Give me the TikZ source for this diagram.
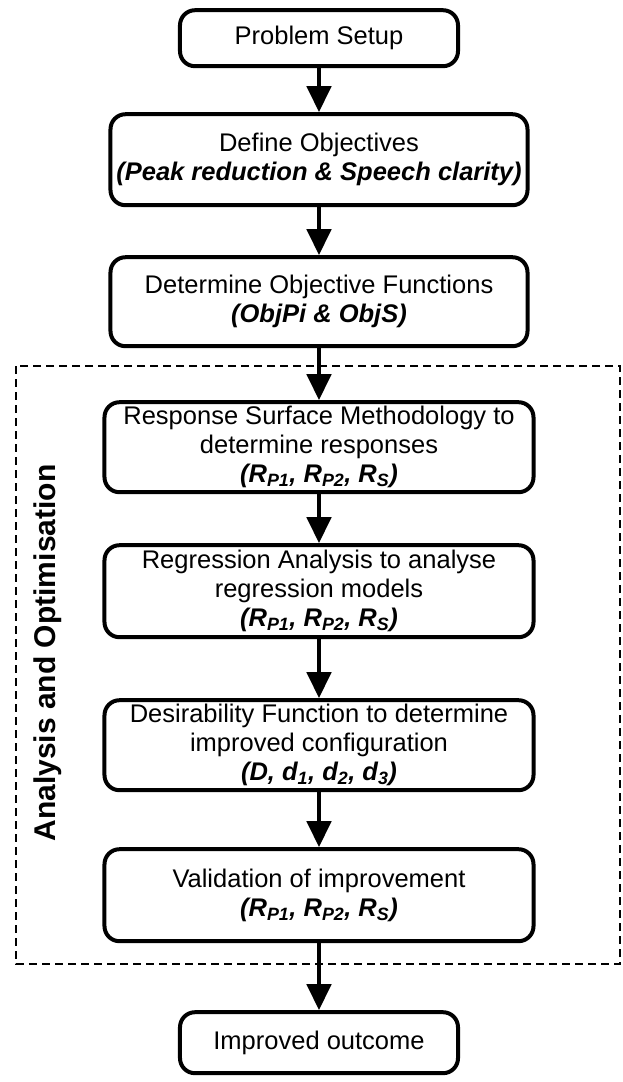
\documentclass[tikz,border=0pt]{standalone}
\usepackage{fontspec}
\setmainfont{Liberation Sans}
\usepackage{tikz}
\usetikzlibrary{arrows.meta}

\newcommand{\respset}{\textbf{\textit{(R\textsubscript{P1}, R\textsubscript{P2}, R\textsubscript{S})}}}

\begin{document}
\begin{tikzpicture}[x=1pt, y=1pt,
    stage/.style={draw, line width=4pt, rounded corners=15pt, align=center,
        inner sep=2pt, font=\fontsize{25.5pt}{29pt}\selectfont},
    widestage/.style={stage, minimum width=429pt},
    flow/.style={-{Triangle[length=26pt, width=24pt]}, line width=4.5pt},
    groupbox/.style={draw, line width=2.5pt, dash pattern=on 8pt off 5pt}]
    \useasboundingbox (0,0) rectangle (623,-1082);
    \draw[groupbox] (16,-366) rectangle (620,-964);
    \node[rotate=90, font=\fontsize{30pt}{36pt}\selectfont\bfseries] (grouplabel)
        at (48,-653) {Analysis and Optimisation};

    \matrix[anchor=north, inner sep=0pt, row sep=0pt] (flowchart) at (319,-8) {
        \node[stage, minimum width=278pt, minimum height=56pt] (setup)
            {Problem Setup}; \\[44pt]
        \node[stage, minimum width=417pt, minimum height=91pt] (objectives)
            {Define Objectives\\ \textbf{\textit{(Peak reduction \& Speech clarity)}}}; \\[48pt]
        \node[stage, minimum width=417pt, minimum height=89pt] (functions)
            {Determine Objective Functions\\ \textbf{\textit{(ObjPi \& ObjS)}}}; \\[52pt]
        \node[widestage, minimum height=90pt] (rsm)
            {Response Surface Methodology to\\ determine responses\\ \respset}; \\[49pt]
        \node[widestage, minimum height=92pt] (regression)
            {Regression Analysis to analyse\\ regression models\\ \respset}; \\[59pt]
        \node[widestage, minimum height=90pt] (desirability)
            {Desirability Function to determine\\ improved configuration\\
            \textbf{\textit{(D, d\textsubscript{1}, d\textsubscript{2}, d\textsubscript{3})}}}; \\[55pt]
        \node[widestage, minimum height=92pt] (validation)
            {Validation of improvement\\ \respset}; \\[67pt]
        \node[stage, minimum width=278pt, minimum height=61pt] (outcome)
            {Improved outcome}; \\
    };

    \draw[flow] (setup) -- (objectives);
    \draw[flow] (objectives) -- (functions);
    \draw[flow] (functions) -- (rsm);
    \draw[flow] (rsm) -- (regression);
    \draw[flow] (regression) -- (desirability);
    \draw[flow] (desirability) -- (validation);
    \draw[flow] (validation) -- (outcome);
\end{tikzpicture}
\end{document}
